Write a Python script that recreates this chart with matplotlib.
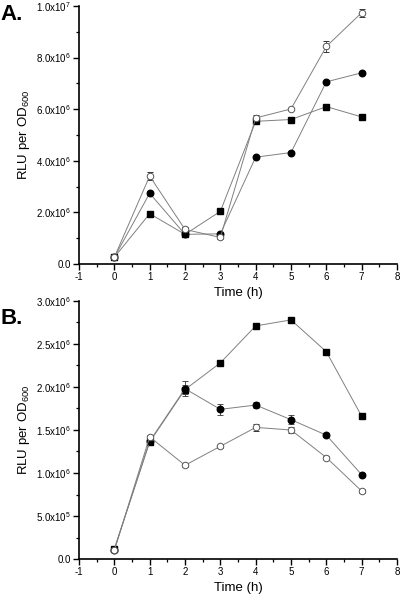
import matplotlib
matplotlib.use("Agg")
import matplotlib.pyplot as plt
from matplotlib.ticker import FixedLocator, MultipleLocator

plt.rcParams['font.family'] = ['Liberation Sans', 'DejaVu Sans']
plt.rcParams['mathtext.fontset'] = 'custom'
plt.rcParams['mathtext.rm'] = 'Liberation Sans'

time = [0, 1, 2, 3, 4, 5, 6, 7]

# Panel A (values in RLU per OD600)
a_open = [0.26e6, 3.41e6, 1.34e6, 1.03e6, 5.66e6, 6.01e6, 8.43e6, 9.74e6]
a_open_err = [0.05e6, 0.15e6, 0.1e6, 0.05e6, 0.1e6, 0.05e6, 0.2e6, 0.15e6]
a_filled = [0.26e6, 2.74e6, 1.15e6, 1.17e6, 4.14e6, 4.32e6, 7.06e6, 7.41e6]
a_filled_err = [0.05e6, 0.08e6, 0.05e6, 0.05e6, 0.05e6, 0.05e6, 0.05e6, 0.05e6]
a_square = [0.26e6, 1.95e6, 1.15e6, 2.04e6, 5.53e6, 5.60e6, 6.10e6, 5.70e6]
a_square_err = [0.05e6, 0.05e6, 0.05e6, 0.05e6, 0.05e6, 0.05e6, 0.05e6, 0.05e6]

# Panel B
b_open = [0.10e6, 1.42e6, 1.09e6, 1.31e6, 1.53e6, 1.50e6, 1.18e6, 0.79e6]
b_open_err = [0.01e6, 0.02e6, 0.02e6, 0.02e6, 0.04e6, 0.03e6, 0.02e6, 0.02e6]
b_filled = [0.11e6, 1.37e6, 1.98e6, 1.74e6, 1.79e6, 1.62e6, 1.44e6, 0.98e6]
b_filled_err = [0.02e6, 0.04e6, 0.09e6, 0.06e6, 0.04e6, 0.05e6, 0.02e6, 0.02e6]
b_square = [0.12e6, 1.36e6, 1.97e6, 2.28e6, 2.71e6, 2.78e6, 2.41e6, 1.66e6]
b_square_err = [0.02e6, 0.04e6, 0.05e6, 0.02e6, 0.03e6, 0.02e6, 0.02e6, 0.03e6]

a_ticks = [0, 2e6, 4e6, 6e6, 8e6, 1e7]
a_ticklabels = ['0.0', r'2.0x10$^{6}$', r'4.0x10$^{6}$', r'6.0x10$^{6}$', r'8.0x10$^{6}$', r'1.0x10$^{7}$']
b_ticks = [0, 5e5, 1e6, 1.5e6, 2e6, 2.5e6, 3e6]
b_ticklabels = ['0.0', r'5.0x10$^{5}$', r'1.0x10$^{6}$', r'1.5x10$^{6}$', r'2.0x10$^{6}$', r'2.5x10$^{6}$', r'3.0x10$^{6}$']
x_ticks = [-1, 0, 1, 2, 3, 4, 5, 6, 7, 8]

fig = plt.figure(figsize=(4.0, 5.98), dpi=100)
axA = fig.add_axes([0.1975, 0.5585, 0.795, 0.4315])
axB = fig.add_axes([0.1975, 0.0652, 0.795, 0.4315])

lc = '#808080'

def draw(ax, op, ope, fi, fie, sq, sqe, ticks, ticklabels, ymax, minor):
    kw = dict(color=lc, lw=0.7, capsize=2, elinewidth=0.6, ecolor='#333333', capthick=0.6)
    ax.errorbar(time, sq, yerr=sqe, marker='s', ms=4.3, mfc='black', mec='black', **kw)
    ax.errorbar(time, fi, yerr=fie, marker='o', ms=4.7, mfc='black', mec='black', **kw)
    ax.errorbar(time, op, yerr=ope, marker='o', ms=4.7, mfc='white', mec='#555555', mew=0.7, **kw)
    ax.set_xlim(-1, 8)
    ax.set_ylim(0, ymax)
    ax.spines['top'].set_visible(False)
    ax.spines['right'].set_visible(False)
    ax.spines['left'].set_linewidth(1.2)
    ax.spines['bottom'].set_linewidth(1.2)
    ax.xaxis.set_major_locator(FixedLocator(x_ticks))
    ax.xaxis.set_minor_locator(MultipleLocator(0.5))
    ax.set_xticklabels([str(t) for t in x_ticks])
    ax.set_yticks(ticks)
    ax.set_yticklabels(ticklabels)
    ax.yaxis.set_minor_locator(MultipleLocator(minor))
    ax.tick_params(which='major', direction='out', length=4, width=1.0, labelsize=7, pad=2)
    ax.tick_params(which='minor', direction='out', length=2.5, width=0.9)
    ax.set_xlabel('Time (h)', fontsize=9.5, labelpad=3)
    ax.set_ylabel(r'RLU per OD$_{600}$', fontsize=9.5, labelpad=3)

draw(axA, a_open, a_open_err, a_filled, a_filled_err, a_square, a_square_err,
     a_ticks, a_ticklabels, 1e7, 1e6)
draw(axB, b_open, b_open_err, b_filled, b_filled_err, b_square, b_square_err,
     b_ticks, b_ticklabels, 3e6, 2.5e5)

fig.text(0.0, 0.975, 'A.', fontsize=16, fontweight='bold', va='center', ha='left')
fig.text(0.0, 0.468, 'B.', fontsize=16, fontweight='bold', va='center', ha='left')

fig.savefig('out.png', dpi=100)
